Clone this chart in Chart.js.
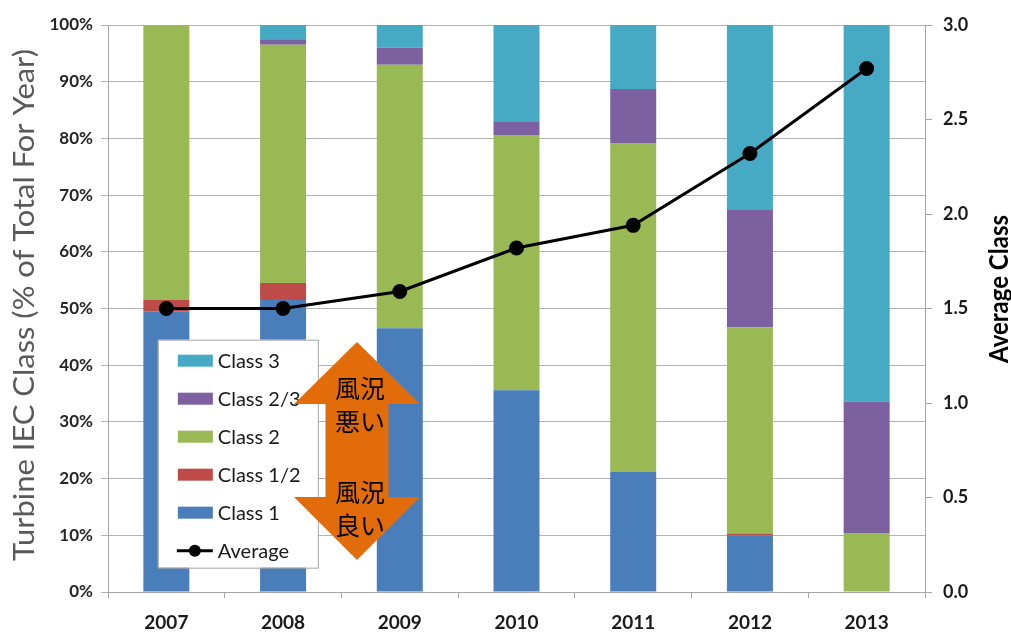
<!DOCTYPE html>
<html>
<head>
<meta charset="utf-8">
<script src="https://cdn.jsdelivr.net/npm/chart.js@4/dist/chart.umd.min.js"></script>
<style>
html,body{margin:0;padding:0;background:#fff;}
#wrap{position:relative;width:1011px;height:635px;}
</style>
</head>
<body>
<div id="wrap"><canvas id="c" width="1011" height="635"></canvas></div>
<script>
const years = ['2007','2008','2009','2010','2011','2012','2013'];
const class1   = [49.5, 51.5, 46.5, 35.6, 21.2, 10.0, 0];
const class12  = [2.0, 3.0, 0, 0, 0, 0.3, 0];
const class2   = [48.5, 42.0, 46.5, 45.0, 58.0, 36.4, 10.4];
const class23  = [0, 1.0, 3.0, 2.3, 9.5, 20.8, 23.2];
const class3   = [0, 2.5, 4.0, 17.1, 11.3, 32.5, 66.4];
const average  = [1.50, 1.50, 1.59, 1.82, 1.94, 2.32, 2.77];
const leftTicks = [0,10,20,30,40,50,60,70,80,90,100];
const rightTicks = [0,0.5,1.0,1.5,2.0,2.5,3.0];
const leftTitle = 'Turbine IEC Class (% of Total For Year)';
const rightTitle = 'Average Class';

const C = {c1:'#4A7EBB', c12:'#BE4B48', c2:'#98B954', c23:'#7D60A0', c3:'#46AAC5'};

function rotatedTitle(ctx, text, font, color, cx, cy, length, thick){
  ctx.save();
  ctx.font = font; ctx.fillStyle = color;
  ctx.textAlign = 'center'; ctx.textBaseline = 'middle';
  const w = ctx.measureText(text).width;
  ctx.translate(cx, cy);
  ctx.rotate(-Math.PI/2);
  ctx.scale(length / w, thick);
  ctx.fillText(text, 0, 0);
  ctx.restore();
}

const overlay = {
  id:'overlay',
  afterDraw(chart){
    const ctx = chart.ctx, a = chart.chartArea;
    const W = a.right - a.left, H = a.bottom - a.top;
    rotatedTitle(ctx, leftTitle, '26px Lato', '#595959', 25, 305, 512, 1.1);
    rotatedTitle(ctx, rightTitle, 'bold 23px Lato', '#000', 999, 289, 148, 1.15);

    // legend
    const lx = a.left + W*0.061, ly = a.top + H*0.555, lw = 160, lh = 228;
    ctx.save();
    ctx.fillStyle = '#fff';
    ctx.fillRect(lx, ly, lw, lh);
    ctx.strokeStyle = '#A6A6A6'; ctx.lineWidth = 1;
    ctx.strokeRect(lx+0.5, ly+0.5, lw, lh);
    const items = [4,3,2,1,0,5];
    ctx.font = '20px Lato';
    ctx.textBaseline = 'middle';
    items.forEach((di, i) => {
      const ds = chart.data.datasets[di];
      const y = ly + 21 + i*38;
      if (ds.type === 'line') {
        ctx.strokeStyle = '#000'; ctx.lineWidth = 3;
        ctx.beginPath(); ctx.moveTo(lx+19, y); ctx.lineTo(lx+55, y); ctx.stroke();
        ctx.fillStyle = '#000';
        ctx.beginPath(); ctx.arc(lx+37, y, 6, 0, Math.PI*2); ctx.fill();
      } else {
        ctx.fillStyle = ds.backgroundColor;
        ctx.fillRect(lx+20, y-6, 35, 12);
      }
      ctx.fillStyle = '#1a1a1a';
      ctx.fillText(ds.label, lx+60, y+1);
    });
    ctx.restore();

    // orange double arrow
    const cx = 357, top = 342, hb1 = 404, hb2 = 497, bot = 560, hw = 63, sw = 31.5;
    ctx.save();
    ctx.fillStyle = '#E36C0A';
    ctx.beginPath();
    ctx.moveTo(cx, top);
    ctx.lineTo(cx+hw, hb1); ctx.lineTo(cx+sw, hb1);
    ctx.lineTo(cx+sw, hb2); ctx.lineTo(cx+hw, hb2);
    ctx.lineTo(cx, bot);
    ctx.lineTo(cx-hw, hb2); ctx.lineTo(cx-sw, hb2);
    ctx.lineTo(cx-sw, hb1); ctx.lineTo(cx-hw, hb1);
    ctx.closePath(); ctx.fill();
    ctx.fillStyle = '#000';
    ctx.font = '25px "Noto Sans CJK JP"';
    ctx.textAlign = 'center'; ctx.textBaseline = 'middle';
    ctx.fillText('風況', 360, 388);
    ctx.fillText('悪い', 360, 421);
    ctx.fillText('風況', 360, 492);
    ctx.fillText('良い', 360, 525);
    ctx.restore();
  }
};

new Chart(document.getElementById('c'), {
  type:'bar',
  data:{
    labels: years,
    datasets:[
      {label:'Class 1', data:class1, backgroundColor:C.c1, stack:'s', yAxisID:'y', order:1},
      {label:'Class 1/2', data:class12, backgroundColor:C.c12, stack:'s', yAxisID:'y', order:1},
      {label:'Class 2', data:class2, backgroundColor:C.c2, stack:'s', yAxisID:'y', order:1},
      {label:'Class 2/3', data:class23, backgroundColor:C.c23, stack:'s', yAxisID:'y', order:1},
      {label:'Class 3', data:class3, backgroundColor:C.c3, stack:'s', yAxisID:'y', order:1},
      {label:'Average', type:'line', data:average, yAxisID:'y1', borderColor:'#000', backgroundColor:'#000',
       borderWidth:3, pointRadius:6, pointBackgroundColor:'#000', pointBorderColor:'#000', tension:0, order:0}
    ]
  },
  options:{
    responsive:false,
    animation:false,
    devicePixelRatio:1,
    layout:{padding:{top:25, left:0, right:0, bottom:0}},
    plugins:{legend:{display:false}, tooltip:{enabled:false}},
    datasets:{bar:{categoryPercentage:1, barPercentage:0.394}},
    scales:{
      x:{
        stacked:true,
        grid:{display:true, drawOnChartArea:false, offset:true, tickLength:6, color:'#A6A6A6'},
        border:{display:true, color:'#A6A6A6'},
        ticks:{font:{family:'Lato', size:19, weight:'bold'}, color:'#1a1a1a', padding:13},
        afterFit(s){ s.height = 43; }
      },
      y:{
        stacked:true, position:'left', min:0, max:100,
        afterBuildTicks(s){ s.ticks = leftTicks.map(v=>({value:v})); },
        ticks:{callback:v=>v+'%', font:{family:'Lato', size:17, weight:'bold'}, color:'#262626', padding:8},
        grid:{color:'#B3B3B3', tickLength:7},
        border:{display:true, color:'#A6A6A6'},
        afterFit(s){ s.width = 108; }
      },
      y1:{
        position:'right', min:0, max:3,
        afterBuildTicks(s){ s.ticks = rightTicks.map(v=>({value:v})); },
        ticks:{callback:v=>Number(v).toFixed(1), font:{family:'Lato', size:18, weight:'bold'}, color:'#1a1a1a', padding:11},
        grid:{drawOnChartArea:false, tickLength:7, color:'#A6A6A6'},
        border:{display:true, color:'#A6A6A6'},
        afterFit(s){ s.width = 86; }
      }
    }
  },
  plugins:[overlay]
});
</script>
</body>
</html>
